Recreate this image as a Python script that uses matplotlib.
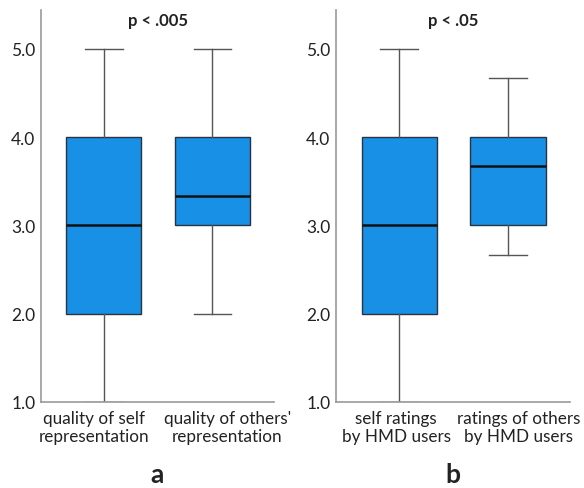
import matplotlib
matplotlib.use("Agg")
import matplotlib.pyplot as plt
import matplotlib.transforms as mtransforms

plt.rcParams["font.family"] = ["Lato", "DejaVu Sans"]

# panel a
labels_a = ["quality of self\nrepresentation", "quality of others'\nrepresentation"]
whislo_a = [1.0, 2.0]
q1_a = [2.0, 3.0]
med_a = [3.0, 3.33]
q3_a = [4.0, 4.0]
whishi_a = [5.0, 5.0]

# panel b
labels_b = ["self ratings\nby HMD users", "ratings of others\nby HMD users"]
whislo_b = [1.0, 2.67]
q1_b = [2.0, 3.0]
med_b = [3.0, 3.67]
q3_b = [4.0, 4.0]
whishi_b = [5.0, 4.67]

yticks = [1.0, 2.0, 3.0, 4.0, 5.0]
titles = ["p < .005", "p < .05"]
letters = ["a", "b"]

BOX = "#1790e6"
TXT = "#222222"
W, H = 584, 489


def stats(lo, q1, med, q3, hi):
    return [dict(whislo=a, q1=b, med=c, q3=d, whishi=e, fliers=[])
            for a, b, c, d, e in zip(lo, q1, med, q3, hi)]


fig = plt.figure(figsize=(W / 100, H / 100), dpi=100)
panels = [
    (41, 233, stats(whislo_a, q1_a, med_a, q3_a, whishi_a), labels_a, [-10, 15]),
    (336, 234, stats(whislo_b, q1_b, med_b, q3_b, whishi_b), labels_b, [-3, 11]),
]
for i, (x0, w, st, labs, shifts) in enumerate(panels):
    ax = fig.add_axes([x0 / W, 1 - 403 / H, w / W, (403 - 11) / H])
    ax.bxp(st, positions=[1, 2], widths=0.69, patch_artist=True,
           showfliers=False,
           boxprops=dict(facecolor=BOX, edgecolor="#2a3440", linewidth=1.0),
           medianprops=dict(color="#111111", linewidth=1.8),
           whiskerprops=dict(color="#555555", linewidth=1.0),
           capprops=dict(color="#555555", linewidth=1.0),
           capwidths=0.345)
    ax.set_xlim(0.42, 2.57)
    ax.set_ylim(1.0, 5.44)
    ax.set_yticks(yticks)
    ax.set_yticklabels([f"{v:.1f}" for v in yticks], fontsize=12.5, color=TXT)
    ax.set_xticks([1, 2])
    ax.set_xticklabels([])
    ax.tick_params(length=0, axis="y", pad=4)
    ax.tick_params(length=0, axis="x")
    # category labels, nudged sideways like the original
    base = ax.get_xaxis_transform()
    for pos, lab, dx in zip([1, 2], labs, shifts):
        tr = mtransforms.offset_copy(base, fig=fig, x=dx, y=0, units="dots")
        ax.text(pos, -0.02, lab, transform=tr, ha="center", va="top",
                fontsize=12.3, color=TXT, linespacing=1.15)
    for s in ("top", "right"):
        ax.spines[s].set_visible(False)
    for s in ("left", "bottom"):
        ax.spines[s].set_color("#999999")
        ax.spines[s].set_linewidth(1.2)
    ax.set_facecolor("white")
    ax.text(0.5, 0.975, titles[i], transform=ax.transAxes, ha="center",
            va="center", fontsize=12, fontweight="bold", color=TXT)
    fig.text((x0 + w * 0.5) / W, 1 - 475 / H, letters[i], ha="center",
             va="center", fontsize=19, fontweight="bold", color=TXT)

fig.savefig("out.png", dpi=100, facecolor="white")
